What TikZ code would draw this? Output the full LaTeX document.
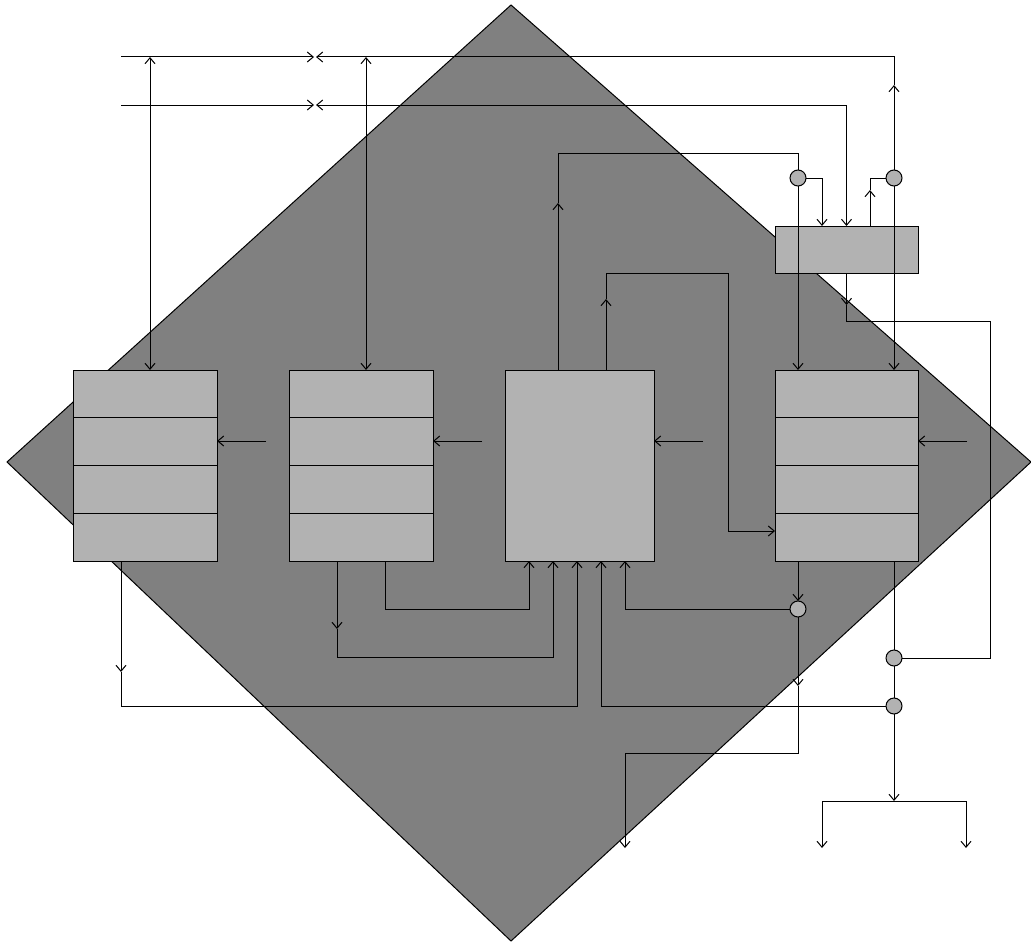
\documentclass[tikz,border=0pt]{standalone}
\usetikzlibrary{arrows.meta,calc}
\begin{document}
\begin{tikzpicture}[x=1pt,y=-1pt,line width=1pt,
  tip/.tip={Straight Barb[length=6pt,width=10pt]},
  arr/.style={-tip},
  bi/.style={tip-tip},
  blk/.style={draw,fill=black!30,inner sep=0pt,outer sep=0pt,anchor=north west},
  rowbox/.style={blk,minimum height=191pt,
    path picture={\foreach \i in {0.25,0.5,0.75}{\draw[line width=1pt] ($(path picture bounding box.north west)!\i!(path picture bounding box.south west)$) -- ($(path picture bounding box.north east)!\i!(path picture bounding box.south east)$);}}},
  jn/.style={circle,draw,fill=black!30,minimum size=16pt,inner sep=0pt,outer sep=0pt}]
\useasboundingbox (0,0) rectangle (1031,942);
% background diamond
\filldraw[fill=black!50,draw=black] (511,5) -- (1031,462) -- (511,941) -- (7,462) -- cycle;
% blocks
\node[rowbox,minimum width=144pt] (b1) at (73,370) {};
\node[rowbox,minimum width=144pt] (b2) at (289,370) {};
\node[blk,minimum width=149pt,minimum height=191pt] (b3) at (505,370) {};
\node[rowbox,minimum width=143pt] (b4) at (775,370) {};
\node[blk,minimum width=143pt,minimum height=47pt] (sb) at (775,226) {};
% junctions
\node[jn] (c1) at (798,178) {};
\node[jn] (c2) at (894,178) {};
\node[jn] (c3) at (798,609) {};
\node[jn] (c4) at (894,658) {};
\node[jn] (c5) at (894,706) {};
% free ends
\coordinate (inA) at (121,57);
\coordinate (inB) at (121,105);
\coordinate (tA1) at (314,57);
\coordinate (tA2) at (316,57);
\coordinate (tB1) at (314,105);
\coordinate (tB2) at (316,105);
\coordinate (h1) at (266,441);
\coordinate (h2) at (482,441);
\coordinate (h3) at (703,441);
\coordinate (h4) at (967,441);
\coordinate (o1) at (625,848);
\coordinate (o2) at (822,848);
\coordinate (o3) at (966,848);
% top bus lines
\draw[arr] (inA) -- (tA1);
\draw[arr] (inB) -- (tB1);
\draw[arr] (c2) -- (894,85);
\draw[arr] (894,85) -- (894,57) -- (tA2);
\draw[bi] (tB2) -- (846.5,105) -- (sb.north);
\draw[bi] (150,57) -- (b1.north -| 150,0);
\draw[bi] (366,57) -- (b2.north -| 366,0);
% upper connections
\draw[arr] (b3.north -| 558,0) -- (558,203);
\draw (558,203) -- (558,153) -- (798,153) -- (c1);
\draw[arr] (c1) -- (822,178) -- (sb.north -| 822,0);
\draw[arr] (sb.north -| 870,0) -- (870,190);
\draw (870,190) -- (870,178) -- (c2);
\draw[arr] (c1) -- (b4.north -| 798,0);
\draw[arr] (c2) -- (b4.north -| 894,0);
\draw[arr] (sb.south) -- (846.5,305);
\draw (846.5,305) -- (846.5,321) -- (990,321) -- (990,658) -- (c4);
\draw[arr] (b3.north -| 606,0) -- (606,299);
\draw[arr] (606,299) -- (606,273) -- (728,273) -- (728,531) -- (b4.west |- 0,531);
% horizontal inputs
\draw[arr] (h1) -- (b1.east |- h1);
\draw[arr] (h2) -- (b2.east |- h2);
\draw[arr] (h3) -- (b3.east |- h3);
\draw[arr] (h4) -- (b4.east |- h4);
% lower connections
\draw[arr] (b1.south -| 121,0) -- (121,672);
\draw[arr] (121,672) -- (121,706) -- (577,706) -- (b3.south -| 577,0);
\draw[arr] (b2.south -| 337,0) -- (337,629);
\draw[arr] (337,629) -- (337,657) -- (553,657) -- (b3.south -| 553,0);
\draw[arr] (b2.south -| 385,0) -- (385,609) -- (529,609) -- (b3.south -| 529,0);
\draw[arr] (b4.south -| 798,0) -- (c3);
\draw[arr] (c3) -- (625,609) -- (b3.south -| 625,0);
\draw[arr] (c3) -- (798,686);
\draw[arr] (798,686) -- (798,753) -- (625,753) -- (o1);
\draw (b4.south -| 894,0) -- (c4);
\draw (c4) -- (c5);
\draw[arr] (c5) -- (601,706) -- (b3.south -| 601,0);
\draw[arr] (c5) -- (894,801);
\draw[arr] (894,801) -- (822,801) -- (o2);
\draw[arr] (894,801) -- (966,801) -- (o3);
\end{tikzpicture}
\end{document}
